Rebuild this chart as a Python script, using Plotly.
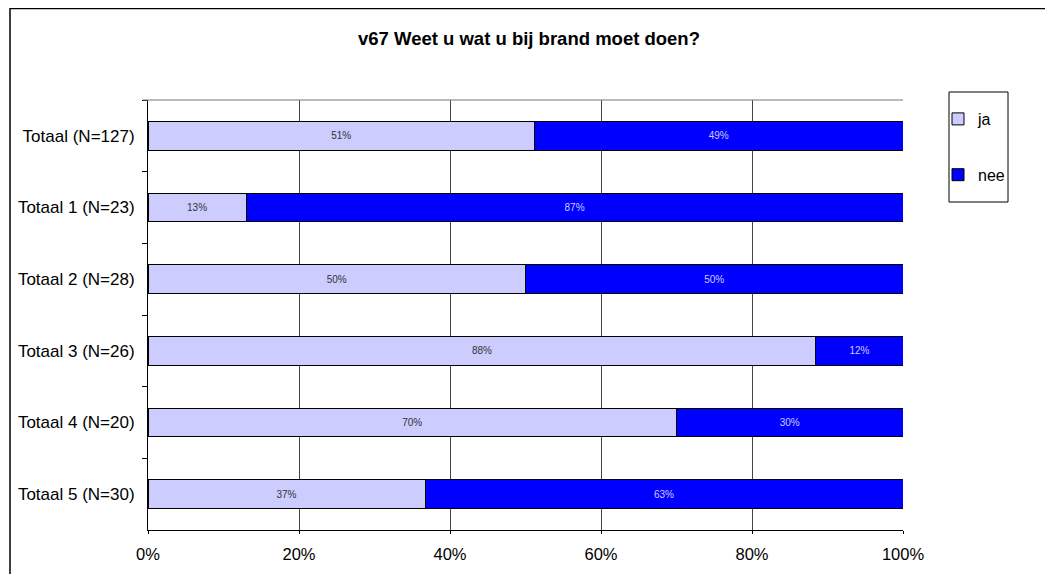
import plotly.graph_objects as go

categories = ["Totaal (N=127)", "Totaal 1 (N=23)", "Totaal 2 (N=28)",
              "Totaal 3 (N=26)", "Totaal 4 (N=20)", "Totaal 5 (N=30)"]
ja = [0.512, 0.130, 0.500, 0.8846, 0.700, 0.367]
nee = [0.488, 0.870, 0.500, 0.1154, 0.300, 0.633]
x_ticks = [0, 0.2, 0.4, 0.6, 0.8, 1.0]
x_labels = ["0%", "20%", "40%", "60%", "80%", "100%"]
title = "v67 Weet u wat u bij brand moet doen?"

FONT = "Liberation Sans, Arial, sans-serif"

# figure is drawn at an 8px page offset (body margin); layout in figure px
W, H = 1045, 566
L, R, T, B = 140, 150, 92, 44
PW, PH = W - L - R, H - T - B


def px(x):
    return (x - L) / PW


def py(y):
    return (H - B - y) / PH


fig = go.Figure()
fig.add_trace(go.Bar(
    y=categories, x=ja, name="ja", orientation="h",
    marker=dict(color="#CCCCFF", line=dict(color="black", width=1)),
    texttemplate="%{x:.0%}", textposition="inside", insidetextanchor="middle",
    textangle=0, textfont=dict(family=FONT, size=10, color="#333333"),
    legendgroup="a",
))
fig.add_trace(go.Bar(
    y=categories, x=nee, name="nee", orientation="h",
    marker=dict(color="#0000FF", line=dict(color="black", width=1)),
    texttemplate="%{x:.0%}", textposition="inside", insidetextanchor="middle",
    textangle=0, textfont=dict(family=FONT, size=10, color="#CCCCFF"),
    legendgroup="b",
))

fig.update_layout(
    width=W, height=H,
    margin=dict(l=L, r=R, t=T, b=B, autoexpand=False),
    paper_bgcolor="white", plot_bgcolor="white",
    barmode="stack", bargap=0.6,
    font=dict(family=FONT, color="black"),
    title=dict(text="<b>" + title + "</b>", x=px(521), xref="paper", xanchor="center",
               y=1 - 31 / H, yanchor="middle",
               font=dict(family=FONT, size=18.5, color="black")),
    showlegend=True,
    legend=dict(x=px(930), y=py(94), xanchor="left", yanchor="top",
                borderwidth=0, bgcolor="rgba(0,0,0,0)",
                font=dict(family=FONT, size=16, color="black"),
                traceorder="grouped", tracegroupgap=32, itemwidth=30),
    uniformtext=dict(mode=False),
)
fig.update_xaxes(range=[0, 1], tickvals=x_ticks, ticktext=x_labels,
                 showgrid=True, gridcolor="#444444", gridwidth=1,
                 showline=True, linecolor="black", linewidth=1,
                 ticks="outside", ticklen=3, tickcolor="black",
                 tickfont=dict(family=FONT, size=16.5, color="black"),
                 ticklabelstandoff=6, automargin=False,
                 zeroline=False, fixedrange=True)
fig.update_yaxes(autorange="reversed", showgrid=False,
                 showline=True, linecolor="black", linewidth=1,
                 ticks="outside", ticklen=5, tickcolor="black", tickson="boundaries",
                 tickfont=dict(family=FONT, size=17, color="black"),
                 ticklabelstandoff=9, automargin=False, fixedrange=True)

# top line of plot area
fig.add_shape(type="line", xref="paper", yref="paper", x0=px(L - 5), x1=1, y0=1, y1=1,
              line=dict(color="#777777", width=1))
# legend box
fig.add_shape(type="rect", xref="paper", yref="paper",
              x0=px(941), x1=px(1000), y0=py(194), y1=py(84),
              line=dict(color="black", width=1), layer="below")
# outer chart border
fig.add_shape(type="rect", xref="paper", yref="paper",
              x0=px(2), x1=px(1039), y0=py(620), y1=py(0.5),
              line=dict(color="black", width=1.5), layer="below")

fig.write_html("out.html")
